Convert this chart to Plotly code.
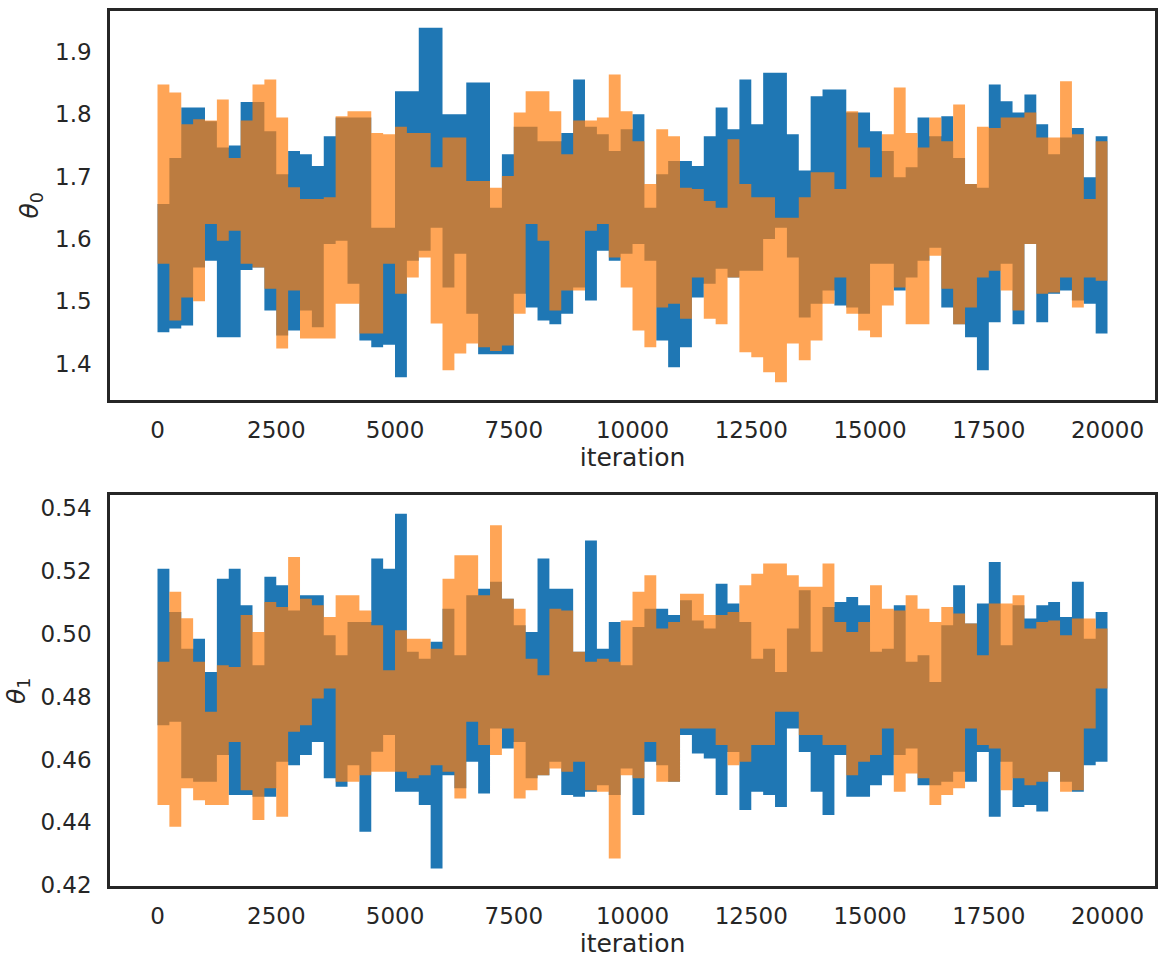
import numpy as np
import plotly.graph_objects as go

# ---- data: per 250-iteration block, upper / lower extent of each chain ----
n_iter = 20000
block = 250

theta0_blue_hi = [1.656, 1.73, 1.811, 1.811, 1.789, 1.747, 1.75, 1.82, 1.82, 1.773,
                  1.704, 1.741, 1.736, 1.717, 1.765, 1.795, 1.795, 1.795, 1.618, 1.618,
                  1.837, 1.837, 1.939, 1.939, 1.80, 1.80, 1.851, 1.851, 1.65, 1.736,
                  1.78, 1.78, 1.757, 1.757, 1.77, 1.856, 1.78, 1.768, 1.741, 1.776,
                  1.80, 1.65, 1.704, 1.725, 1.725, 1.717, 1.765, 1.811, 1.776, 1.856,
                  1.784, 1.867, 1.867, 1.768, 1.71, 1.829, 1.84, 1.84, 1.803, 1.803,
                  1.773, 1.741, 1.699, 1.715, 1.795, 1.765, 1.797, 1.73, 1.688, 1.682,
                  1.848, 1.821, 1.803, 1.832, 1.784, 1.736, 1.763, 1.778, 1.699, 1.765]
theta0_blue_lo = [1.450, 1.456, 1.461, 1.554, 1.565, 1.442, 1.442, 1.55, 1.554, 1.485,
                  1.445, 1.453, 1.485, 1.458, 1.592, 1.597, 1.528, 1.437, 1.426, 1.43,
                  1.378, 1.565, 1.581, 1.618, 1.522, 1.576, 1.48, 1.415, 1.415, 1.415,
                  1.512, 1.49, 1.469, 1.463, 1.48, 1.522, 1.501, 1.581, 1.565, 1.576,
                  1.592, 1.565, 1.437, 1.394, 1.426, 1.506, 1.528, 1.552, 1.538, 1.549,
                  1.549, 1.60, 1.618, 1.57, 1.474, 1.496, 1.517, 1.493, 1.49, 1.48,
                  1.56, 1.56, 1.517, 1.538, 1.565, 1.586, 1.49, 1.463, 1.442, 1.389,
                  1.466, 1.56, 1.463, 1.592, 1.466, 1.512, 1.517, 1.501, 1.496, 1.448]
theta0_orange_hi = [1.848, 1.835, 1.784, 1.792, 1.79, 1.824, 1.73, 1.79, 1.848, 1.856,
                    1.795, 1.683, 1.664, 1.664, 1.667, 1.797, 1.805, 1.805, 1.77, 1.768,
                    1.78, 1.77, 1.77, 1.715, 1.763, 1.763, 1.693, 1.693, 1.682, 1.701,
                    1.803, 1.837, 1.837, 1.805, 1.736, 1.79, 1.79, 1.795, 1.864, 1.805,
                    1.757, 1.688, 1.776, 1.765, 1.682, 1.68, 1.661, 1.65, 1.76, 1.688,
                    1.667, 1.667, 1.634, 1.634, 1.667, 1.707, 1.707, 1.68, 1.805, 1.747,
                    1.699, 1.768, 1.843, 1.77, 1.747, 1.795, 1.757, 1.816, 1.688, 1.78,
                    1.778, 1.795, 1.795, 1.803, 1.763, 1.763, 1.853, 1.768, 1.664, 1.757]
theta0_orange_lo = [1.560, 1.469, 1.506, 1.50, 1.624, 1.597, 1.613, 1.56, 1.554, 1.52,
                    1.424, 1.517, 1.44, 1.44, 1.44, 1.496, 1.496, 1.448, 1.448, 1.56,
                    1.512, 1.538, 1.57, 1.464, 1.389, 1.416, 1.432, 1.426, 1.42, 1.429,
                    1.48, 1.624, 1.597, 1.485, 1.517, 1.517, 1.613, 1.624, 1.57, 1.522,
                    1.453, 1.426, 1.49, 1.496, 1.472, 1.538, 1.472, 1.463, 1.538, 1.418,
                    1.41, 1.386, 1.37, 1.432, 1.405, 1.437, 1.496, 1.538, 1.48, 1.453,
                    1.442, 1.493, 1.522, 1.463, 1.463, 1.573, 1.52, 1.463, 1.49, 1.538,
                    1.549, 1.517, 1.485, 1.592, 1.512, 1.514, 1.538, 1.49, 1.538, 1.533]

theta1_blue_hi = [0.5208, 0.507, 0.4953, 0.4985, 0.4879, 0.5176, 0.5208, 0.5091, 0.49, 0.5182,
                  0.5155, 0.5075, 0.5123, 0.5123, 0.4996, 0.4932, 0.5038, 0.5038, 0.524, 0.5208,
                  0.5383, 0.4943, 0.4921, 0.4975, 0.508, 0.4932, 0.5123, 0.5144, 0.5166, 0.5112,
                  0.5028, 0.5006, 0.524, 0.5144, 0.5144, 0.4943, 0.5298, 0.4953, 0.5038, 0.49,
                  0.5022, 0.508, 0.508, 0.506, 0.5107, 0.5043, 0.5017, 0.516, 0.5097, 0.5038,
                  0.4921, 0.4953, 0.4879, 0.5017, 0.5139, 0.4943, 0.5086, 0.5102, 0.5118, 0.5091,
                  0.4943, 0.4953, 0.5091, 0.4911, 0.4932, 0.4847, 0.5028, 0.5155, 0.5033, 0.5097,
                  0.5229, 0.4964, 0.5091, 0.5049, 0.5091, 0.5102, 0.5054, 0.5166, 0.4985, 0.507]
theta1_blue_lo = [0.4709, 0.472, 0.454, 0.4529, 0.4529, 0.4614, 0.4487, 0.4487, 0.4481, 0.4481,
                  0.4593, 0.4582, 0.4614, 0.4656, 0.454, 0.4513, 0.4582, 0.437, 0.4625, 0.4678,
                  0.4497, 0.4497, 0.4455, 0.4253, 0.455, 0.4508, 0.4593, 0.4492, 0.4699, 0.4635,
                  0.4656, 0.454, 0.455, 0.4593, 0.4487, 0.4481, 0.4497, 0.4518, 0.4487, 0.4571,
                  0.4423, 0.4593, 0.4582, 0.4529, 0.4678, 0.4619, 0.4603, 0.4487, 0.4624, 0.4439,
                  0.4497, 0.4487, 0.4449, 0.4699, 0.4624, 0.4497, 0.4423, 0.4614, 0.4481, 0.4481,
                  0.4518, 0.455, 0.4614, 0.4635, 0.4518, 0.4518, 0.4529, 0.4561, 0.4529, 0.4624,
                  0.4418, 0.4593, 0.4449, 0.4455, 0.4434, 0.4561, 0.4529, 0.4497, 0.4582, 0.4593]
theta1_orange_hi = [0.4911, 0.5134, 0.505, 0.4911, 0.4752, 0.49, 0.4895, 0.506, 0.5006, 0.5102,
                    0.5086, 0.5245, 0.5112, 0.5091, 0.5054, 0.5123, 0.5123, 0.5075, 0.5028, 0.4884,
                    0.5012, 0.4985, 0.4985, 0.4953, 0.5176, 0.5251, 0.5251, 0.5123, 0.5346, 0.5112,
                    0.508, 0.4921, 0.4868, 0.508, 0.5075, 0.4943, 0.4911, 0.4921, 0.4911, 0.5043,
                    0.5134, 0.5187, 0.5017, 0.5038, 0.5128, 0.5128, 0.506, 0.506, 0.507, 0.5155,
                    0.5192, 0.5224, 0.5224, 0.5187, 0.515, 0.515, 0.5224, 0.5038, 0.5006, 0.5038,
                    0.5155, 0.508, 0.5075, 0.5123, 0.508, 0.5038, 0.5086, 0.5065, 0.5033, 0.4932,
                    0.5097, 0.5097, 0.5123, 0.5017, 0.5038, 0.5043, 0.4996, 0.5049, 0.5049, 0.5017]
theta1_orange_lo = [0.4455, 0.4386, 0.4508, 0.447, 0.4455, 0.4455, 0.4656, 0.4502, 0.4407, 0.4508,
                    0.4418, 0.4688, 0.4709, 0.4794, 0.4826, 0.4529, 0.4529, 0.455, 0.4561, 0.4561,
                    0.4561, 0.454, 0.455, 0.4582, 0.4561, 0.4476, 0.472, 0.4646, 0.4614, 0.4699,
                    0.4476, 0.4502, 0.455, 0.4571, 0.4561, 0.4593, 0.4502, 0.4497, 0.4285, 0.455,
                    0.454, 0.4656, 0.4529, 0.4529, 0.4699, 0.4699, 0.4699, 0.4646, 0.4582, 0.4593,
                    0.4646, 0.4646, 0.4752, 0.4752, 0.4678, 0.4678, 0.4646, 0.4646, 0.455, 0.4593,
                    0.4614, 0.4699, 0.4497, 0.4555, 0.454, 0.4455, 0.4487, 0.4508, 0.4699, 0.4646,
                    0.4635, 0.4502, 0.454, 0.4518, 0.4529, 0.4561, 0.4497, 0.4502, 0.4699, 0.4826]

x_tick_vals = [0, 2500, 5000, 7500, 10000, 12500, 15000, 17500, 20000]
x_tick_text = ["0", "2500", "5000", "7500", "10000", "12500", "15000", "17500", "20000"]
theta0_ticks = [1.4, 1.5, 1.6, 1.7, 1.8, 1.9]
theta1_ticks = [0.42, 0.44, 0.46, 0.48, 0.50, 0.52, 0.54]

BLUE = "rgba(31,119,180,1)"
ORANGE = "rgba(255,127,14,0.7)"
TXT = "#262626"
FONT = "DejaVu Sans"

fig = go.Figure()


def add_band(hi, lo, col, xa, ya):
    xs = list(np.arange(len(hi)) * block) + [n_iter - 1]
    lo_s = list(lo) + [lo[-1]]
    hi_s = list(hi) + [hi[-1]]
    fig.add_trace(go.Scatter(x=xs, y=lo_s, mode="lines", line=dict(width=0, shape="hv"),
                             xaxis=xa, yaxis=ya, showlegend=False, hoverinfo="skip"))
    fig.add_trace(go.Scatter(x=xs, y=hi_s, mode="lines", line=dict(width=0, shape="hv"),
                             fill="tonexty", fillcolor=col,
                             xaxis=xa, yaxis=ya, showlegend=False, hoverinfo="skip"))


add_band(theta0_blue_hi, theta0_blue_lo, BLUE, "x", "y")
add_band(theta0_orange_hi, theta0_orange_lo, ORANGE, "x", "y")
add_band(theta1_blue_hi, theta1_blue_lo, BLUE, "x2", "y2")
add_band(theta1_orange_hi, theta1_orange_lo, ORANGE, "x2", "y2")

axis_common = dict(showline=True, linecolor=TXT, linewidth=2.5, mirror=True,
                   showgrid=False, zeroline=False, ticks="outside",
                   tickcolor="rgba(0,0,0,0)",
                   tickfont=dict(family=FONT, size=23, color=TXT))

xr = [-999.95, 20998.95]
fig.update_layout(
    width=1166, height=966,
    margin=dict(l=110, r=8, t=10, b=80),
    paper_bgcolor="white", plot_bgcolor="white",
    font=dict(family=FONT, color=TXT),
    xaxis=dict(domain=[0, 1], anchor="y", range=xr, tickvals=x_tick_vals,
               ticktext=x_tick_text,
               ticklen=8, title=dict(text="iteration", standoff=6,
                                     font=dict(family=FONT, size=25, color=TXT)),
               **axis_common),
    yaxis=dict(domain=[0.5559, 1], anchor="x", range=[1.342, 1.966],
               tickvals=theta0_ticks, tickformat=".1f", ticklen=11,
               title=dict(text="<i>θ</i><sub>0</sub>", standoff=10,
                          font=dict(family=FONT, size=25, color=TXT)),
               **axis_common),
    xaxis2=dict(domain=[0, 1], anchor="y2", range=xr, tickvals=x_tick_vals,
                ticktext=x_tick_text,
                ticklen=8, title=dict(text="iteration", standoff=6,
                                      font=dict(family=FONT, size=25, color=TXT)),
                **axis_common),
    yaxis2=dict(domain=[0, 0.4463], anchor="x2", range=[0.4197, 0.5441],
                tickvals=theta1_ticks, tickformat=".2f", ticklen=11,
                title=dict(text="<i>θ</i><sub>1</sub>", standoff=8,
                           font=dict(family=FONT, size=25, color=TXT)),
                **axis_common),
)

fig.write_html("out.html")
